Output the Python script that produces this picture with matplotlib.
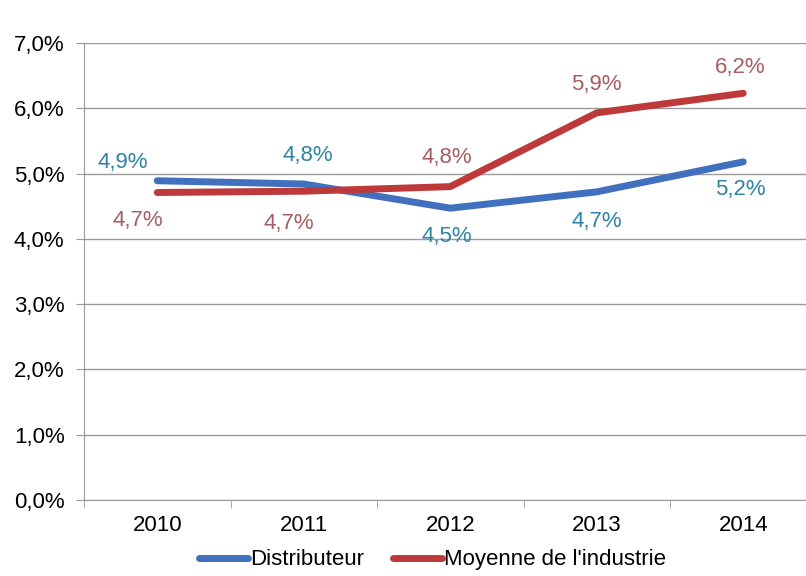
import matplotlib.pyplot as plt
from matplotlib.ticker import FixedLocator, FuncFormatter

plt.rcParams['font.family'] = ['Liberation Sans', 'DejaVu Sans']

years = ["2010", "2011", "2012", "2013", "2014"]
distributeur = [4.89, 4.84, 4.47, 4.72, 5.18]
industrie = [4.71, 4.73, 4.80, 5.93, 6.23]

# label offsets in pixels (dx, dy) relative to each point
dist_offsets = [(-34, 18), (4, 29), (-3, -28), (0, -30), (-3, -28)]
ind_offsets = [(-19, -28), (-15, -32), (-3, 29), (0, 28), (-3, 26)]

BLUE = "#4170BE"
RED = "#BE3A3A"
BLUE_TXT = "#2F83A3"
RED_TXT = "#A65D62"
GRID = "#9A9A9A"
FS = 16


def pct(v):
    return f"{v:.1f}%".replace(".", ",")


fig = plt.figure(figsize=(8.06, 5.76), dpi=100)
ax = fig.add_axes([84 / 806, 76 / 576, 732.5 / 806, 457 / 576])

x = list(range(len(years)))
ax.plot(x, distributeur, color=BLUE, lw=5, solid_capstyle="round",
        solid_joinstyle="round", label="Distributeur", zorder=3)
ax.plot(x, industrie, color=RED, lw=5, solid_capstyle="round",
        solid_joinstyle="round", label="Moyenne de l'industrie", zorder=3)

for i, v in enumerate(distributeur):
    ax.annotate(pct(v), (i, v), xytext=dist_offsets[i], textcoords="offset pixels",
                ha="center", va="center", fontsize=FS, color=BLUE_TXT)
for i, v in enumerate(industrie):
    ax.annotate(pct(v), (i, v), xytext=ind_offsets[i], textcoords="offset pixels",
                ha="center", va="center", fontsize=FS, color=RED_TXT)

ax.set_xlim(-0.5, len(years) - 0.5)
ax.set_ylim(0, 7)
ax.set_yticks([0, 1, 2, 3, 4, 5, 6, 7])
ax.yaxis.set_major_formatter(FuncFormatter(lambda v, _: pct(v)))
ax.set_xticks(x)
ax.set_xticklabels(years)
ax.xaxis.set_minor_locator(FixedLocator([i - 0.5 for i in range(len(years) + 1)]))

ax.grid(axis="y", color=GRID, lw=1)
ax.set_axisbelow(True)
for side in ["top", "right"]:
    ax.spines[side].set_visible(False)
for side in ["left", "bottom"]:
    ax.spines[side].set_color(GRID)

ax.tick_params(axis="y", length=6, color=GRID, pad=8, labelsize=FS)
ax.tick_params(axis="x", which="major", length=0, pad=11, labelsize=FS)
ax.tick_params(axis="x", which="minor", length=6, color=GRID)

fig.legend(loc="center", bbox_to_anchor=(0.537, 0.028), ncol=2, frameon=False,
           fontsize=FS, handlelength=2.2, handletextpad=0.1, columnspacing=1.3)

fig.savefig("out.png", dpi=100, facecolor="white")
